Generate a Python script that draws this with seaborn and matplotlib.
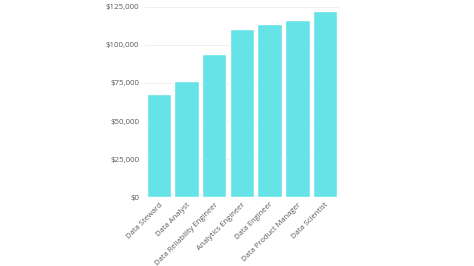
import matplotlib
matplotlib.use("Agg")
import matplotlib.pyplot as plt
import seaborn as sns
import pandas as pd
from matplotlib.ticker import FuncFormatter

roles = ["Data Steward", "Data Analyst", "Data Reliability Engineer",
         "Analytics Engineer", "Data Engineer", "Data Product Manager",
         "Data Scientist"]
salaries = [68000, 76000, 94000, 110700, 113800, 116300, 122400]
y_ticks = [0, 25000, 50000, 75000, 100000, 125000]

df = pd.DataFrame({"role": roles, "salary": salaries})

sns.set_theme(style="white")
plt.rcParams['font.family'] = ['Open Sans', 'DejaVu Sans']

fig = plt.figure(figsize=(4.74, 2.66), dpi=100)
ax = fig.add_axes([0.306, 0.259, 0.409, 0.715])

sns.barplot(data=df, x="role", y="salary", color="#66E3E6", saturation=1,
            width=0.88, ax=ax, zorder=2)

ax.set_ylim(0, 125000)
ax.set_yticks(y_ticks)
ax.yaxis.set_major_formatter(FuncFormatter(lambda v, p: f"${v:,.0f}"))
ax.grid(axis="y", color="#ececec", linewidth=0.6, zorder=0)
ax.set_axisbelow(True)
for s in ax.spines.values():
    s.set_visible(False)
ax.set_xlabel("")
ax.set_ylabel("")
ax.tick_params(axis="y", length=0, labelsize=5.7, colors="#5a5a5a", pad=4)
ax.tick_params(axis="x", length=0, labelsize=5.5, colors="#5a5a5a", pad=3)
plt.setp(ax.get_xticklabels(), rotation=45, ha="right", rotation_mode="anchor")

fig.savefig("out.png", dpi=100, facecolor="white")
